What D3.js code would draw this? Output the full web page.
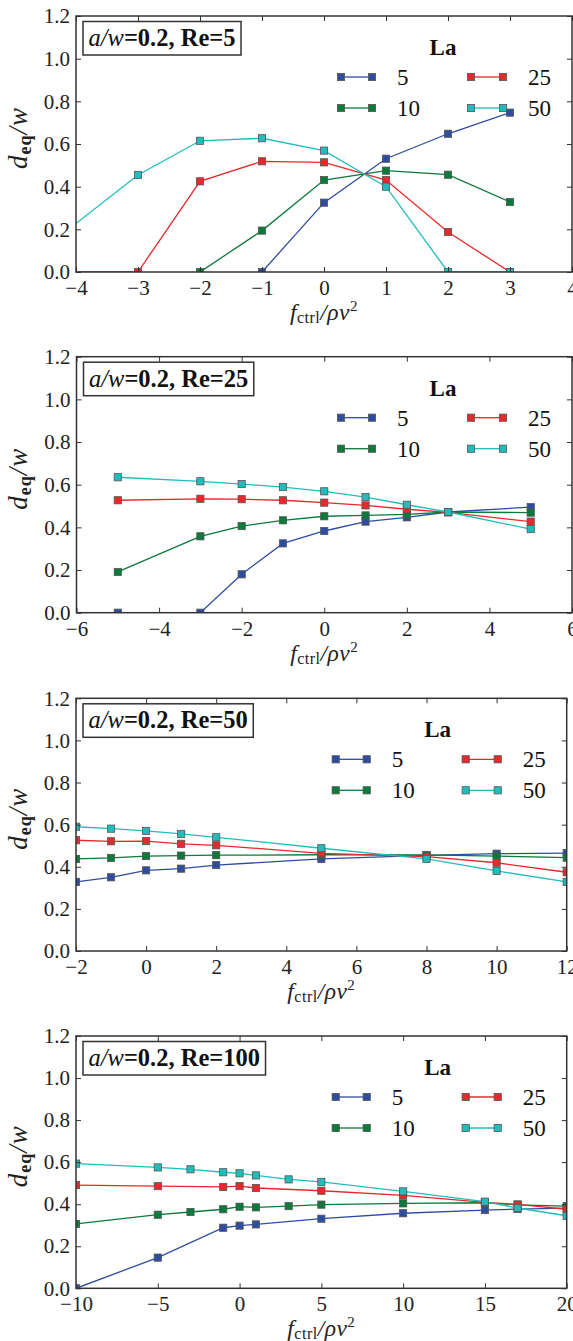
<!DOCTYPE html>
<html><head><meta charset="utf-8">
<script src="https://cdn.jsdelivr.net/npm/d3@7"></script>
<style>body{margin:0;background:#fff}svg{display:block}</style>
</head><body>
<svg id="chart" width="573" height="1341"></svg>
<script>
// ---------- data ----------
const laLabels = ["5", "10", "25", "50"];
const reLabels = ["5", "25", "50", "100"];
const yTicks = [0, 0.2, 0.4, 0.6, 0.8, 1.0, 1.2];

// Re = 5
const re5_xTicks = [-4, -3, -2, -1, 0, 1, 2, 3, 4];
const re5_La5_x = [-1, 0, 1, 2, 3];
const re5_La5_y = [0, 0.325, 0.531, 0.648, 0.747];
const re5_La10_x = [-2, -1, 0, 1, 2, 3];
const re5_La10_y = [0, 0.194, 0.431, 0.475, 0.456, 0.328];
const re5_La25_x = [-5, -3, -2, -1, 0, 1, 2, 3];
const re5_La25_y = [0, 0, 0.425, 0.519, 0.514, 0.431, 0.1875, 0];
const re5_La50_x = [-5, -3, -2, -1, 0, 1, 2, 3];
const re5_La50_y = [0, 0.455, 0.615, 0.627, 0.569, 0.400, 0, 0];

// Re = 25
const re25_xTicks = [-6, -4, -2, 0, 2, 4, 6];
const re25_x = [-5, -3, -2, -1, 0, 1, 2, 3, 5];
const re25_La5_y = [0, 0, 0.180, 0.325, 0.383, 0.427, 0.447, 0.472, 0.495];
const re25_La10_y = [0.191, 0.358, 0.406, 0.433, 0.452, 0.456, 0.461, 0.472, 0.469];
const re25_La25_y = [0.527, 0.534, 0.532, 0.527, 0.516, 0.503, 0.485, 0.470, 0.427];
const re25_La50_y = [0.635, 0.616, 0.603, 0.589, 0.569, 0.542, 0.506, 0.472, 0.392];

// Re = 50
const re50_xTicks = [-2, 0, 2, 4, 6, 8, 10, 12];
const re50_x = [-2, -1, 0, 1, 2, 5, 8, 10, 12];
const re50_La5_y = [0.328, 0.350, 0.383, 0.391, 0.408, 0.437, 0.454, 0.462, 0.465];
const re50_La10_y = [0.437, 0.442, 0.451, 0.453, 0.455, 0.457, 0.456, 0.451, 0.443];
const re50_La25_y = [0.526, 0.521, 0.522, 0.509, 0.502, 0.464, 0.448, 0.419, 0.374];
const re50_La50_y = [0.590, 0.581, 0.570, 0.556, 0.540, 0.488, 0.437, 0.380, 0.328];

// Re = 100
const re100_xTicks = [-10, -5, 0, 5, 10, 15, 20];
const re100_La5_x = [-10, -5, -1, 0, 1, 5, 10, 15, 17, 20];
const re100_La5_y = [0, 0.146, 0.288, 0.298, 0.304, 0.331, 0.357, 0.372, 0.377, 0.381];
const re100_La10_x = [-10, -5, -3, -1, 0, 1, 3, 5, 10, 15, 17, 20];
const re100_La10_y = [0.306, 0.350, 0.363, 0.376, 0.388, 0.385, 0.391, 0.398, 0.404, 0.407, 0.397, 0.391];
const re100_La25_x = [-10, -5, -1, 0, 1, 5, 10, 15, 17, 20];
const re100_La25_y = [0.491, 0.486, 0.482, 0.486, 0.477, 0.464, 0.442, 0.409, 0.399, 0.376];
const re100_La50_x = [-10, -5, -3, -1, 0, 1, 3, 5, 10, 15, 17, 20];
const re100_La50_y = [0.593, 0.575, 0.566, 0.552, 0.547, 0.537, 0.518, 0.506, 0.461, 0.412, 0.382, 0.345];

// ---------- styles / layout ----------
const colors = ["#2f4da0", "#0b7a3a", "#e8292b", "#22bcbc"];
const serif = "'Liberation Serif', 'DejaVu Serif', serif";
const frameColor = "#333";

const panels = [
  { re: reLabels[0], top: 16, bottom: 272, left: 76, right: 572, xdom: [-4, 4], xticks: re5_xTicks,
    series: [[re5_La5_x, re5_La5_y], [re5_La10_x, re5_La10_y], [re5_La25_x, re5_La25_y], [re5_La50_x, re5_La50_y]] },
  { re: reLabels[1], top: 356.7, bottom: 612.7, left: 76.5, right: 572, xdom: [-6, 6], xticks: re25_xTicks,
    series: [[re25_x, re25_La5_y], [re25_x, re25_La10_y], [re25_x, re25_La25_y], [re25_x, re25_La50_y]] },
  { re: reLabels[2], top: 698.3, bottom: 951, left: 76, right: 566.7, xdom: [-2, 12], xticks: re50_xTicks,
    series: [[re50_x, re50_La5_y], [re50_x, re50_La10_y], [re50_x, re50_La25_y], [re50_x, re50_La50_y]] },
  { re: reLabels[3], top: 1036, bottom: 1288.3, left: 76, right: 566.7, xdom: [-10, 20], xticks: re100_xTicks,
    series: [[re100_La5_x, re100_La5_y], [re100_La10_x, re100_La10_y], [re100_La25_x, re100_La25_y], [re100_La50_x, re100_La50_y]] }
];

const svg = d3.select("#chart");
svg.append("rect").attr("width", 573).attr("height", 1341).attr("fill", "#fff");
const fmtNum = v => (v < 0 ? "\u2212" : "") + Math.abs(v);

function spreadTo(textSel, target) {
  const node = textSel.node();
  const w = node.getBBox().width;
  const n = node.textContent.length;
  if (w < target && n > 1) textSel.attr("letter-spacing", (target - w) / n);
}

panels.forEach((p, pi) => {
  const x = d3.scaleLinear().domain(p.xdom).range([p.left, p.right]);
  const y = d3.scaleLinear().domain([0, 1.2]).range([p.bottom, p.top]);
  const g = svg.append("g");
  const clipId = "clip" + pi;
  g.append("clipPath").attr("id", clipId).append("rect")
    .attr("x", p.left).attr("y", p.top).attr("width", p.right - p.left).attr("height", p.bottom - p.top);

  // data
  const dg = g.append("g").attr("clip-path", `url(#${clipId})`);
  const line = d3.line().x(d => x(d[0])).y(d => y(d[1]));
  p.series.forEach((s, si) => {
    const pts = s[0].map((xv, i) => [xv, s[1][i]]);
    dg.append("path").datum(pts).attr("d", line).attr("fill", "none")
      .attr("stroke", colors[si]).attr("stroke-width", 1.3);
    dg.selectAll(null).data(pts).enter().append("rect")
      .attr("x", d => x(d[0]) - 3.6).attr("y", d => y(d[1]) - 3.6)
      .attr("width", 7.2).attr("height", 7.2)
      .attr("fill", colors[si]).attr("stroke", "#555").attr("stroke-width", 0.8);
  });

  // axes (ticks inside, all four sides)
  const tickLen = 5;
  const bottomAxis = d3.axisBottom(x).tickValues(p.xticks).tickSize(-tickLen).tickFormat(fmtNum).tickPadding(8);
  const topAxis = d3.axisTop(x).tickValues(p.xticks).tickSize(-tickLen).tickFormat("");
  const leftAxis = d3.axisLeft(y).tickValues(yTicks).tickSize(-tickLen).tickFormat(d3.format(".1f")).tickPadding(6);
  const rightAxis = d3.axisRight(y).tickValues(yTicks).tickSize(-tickLen).tickFormat("");
  const styleAxis = sel => {
    sel.select(".domain").remove();
    sel.selectAll(".tick line").attr("stroke", frameColor).attr("stroke-width", 1);
    sel.selectAll(".tick text").attr("fill", "#222").attr("font-family", serif).attr("font-size", 21);
  };
  g.append("g").attr("transform", `translate(0,${p.bottom})`).call(bottomAxis).call(styleAxis);
  g.append("g").attr("transform", `translate(0,${p.top})`).call(topAxis).call(styleAxis);
  g.append("g").attr("transform", `translate(${p.left},0)`).call(leftAxis).call(styleAxis);
  g.append("g").attr("transform", `translate(${p.right},0)`).call(rightAxis).call(styleAxis);
  g.append("rect").attr("x", p.left).attr("y", p.top).attr("width", p.right - p.left)
    .attr("height", p.bottom - p.top).attr("fill", "none").attr("stroke", frameColor).attr("stroke-width", 1.5);

  // y label
  const cy = (p.top + p.bottom) / 2 - 6;
  const yl = g.append("text").attr("transform", `translate(27,${cy}) rotate(-90)`)
    .attr("text-anchor", "middle").attr("font-family", serif).attr("font-size", 27).attr("fill", "#222");
  yl.append("tspan").attr("font-style", "italic").text("d");
  yl.append("tspan").attr("font-size", 18).attr("font-weight", "bold").attr("dy", 4).text("eq");
  yl.append("tspan").attr("dy", -4).attr("font-style", "italic").text("/w");
  spreadTo(yl, 62);

  // x label
  const cx = (p.left + p.right) / 2;
  const xl = g.append("text").attr("x", cx).attr("y", p.bottom + 48)
    .attr("text-anchor", "middle").attr("font-family", serif).attr("font-size", 23.5).attr("fill", "#222");
  xl.append("tspan").attr("font-style", "italic").text("f");
  xl.append("tspan").attr("font-size", 16).attr("dy", 3).text("ctrl");
  xl.append("tspan").attr("dy", -3).attr("font-style", "italic").text("/\u03C1\u03BD");
  xl.append("tspan").attr("font-size", 15).attr("dy", -9).text("2");
  spreadTo(xl, 68);

  // title box
  const tt = g.append("text").attr("x", p.left + 12.5).attr("y", p.top + 30)
    .attr("font-family", serif).attr("font-size", 24.5).attr("fill", "#111");
  tt.append("tspan").attr("font-style", "italic").text("a/w");
  tt.append("tspan").attr("font-weight", "bold").text("=0.2, Re=" + p.re);
  const bb = tt.node().getBBox();
  g.insert("rect", () => tt.node()).attr("x", p.left + 7).attr("y", p.top + 5.5)
    .attr("width", bb.width + 11).attr("height", 33.5)
    .attr("fill", "#fff").attr("stroke", frameColor).attr("stroke-width", 1.5);

  // legend
  const R = p.right;
  g.append("text").attr("x", R - 129).attr("y", p.top + 39).attr("text-anchor", "middle")
    .attr("font-family", serif).attr("font-size", 23).attr("font-weight", "bold").attr("fill", "#111").text("La");
  const cols = [[R - 231, R - 200, R - 175], [R - 101, R - 69, R - 44]];
  laLabels.forEach((lab, i) => {
    const col = cols[Math.floor(i / 2)];
    const ry = p.top + (i % 2 === 0 ? 61 : 92);
    g.append("line").attr("x1", col[0]).attr("x2", col[1]).attr("y1", ry).attr("y2", ry)
      .attr("stroke", colors[i]).attr("stroke-width", 1.3);
    [col[0], col[1]].forEach(mx => g.append("rect").attr("x", mx - 3.6).attr("y", ry - 3.6)
      .attr("width", 7.2).attr("height", 7.2).attr("fill", colors[i]).attr("stroke", "#555").attr("stroke-width", 0.8));
    g.append("text").attr("x", col[2]).attr("y", ry + 8).attr("font-family", serif)
      .attr("font-size", 23).attr("fill", "#111").text(lab);
  });
});
</script>
</body></html>
